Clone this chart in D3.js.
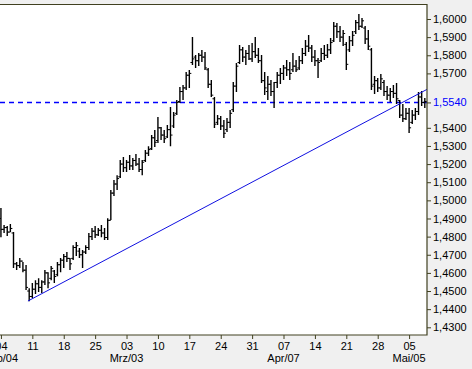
<!DOCTYPE html>
<html>
<head>
<meta charset="utf-8">
<script src="https://cdn.jsdelivr.net/npm/d3@7"></script>
<style>
  body { margin: 0; background: #f0f0f0; }
  svg { display: block; }
  .tick text { font-family: "Liberation Sans", Arial, sans-serif; font-size: 11px; fill: #000; }
</style>
</head>
<body>
<div id="chart"></div>
<script>
// price bars, two per trading day, first one Mon 04 Feb
let highs = [1.4958,1.4864,1.4858,1.4869,1.4825,1.4660,1.4682,1.4660,1.4644,1.4516,
  1.4544,1.4560,1.4571,1.4560,1.4616,1.4604,1.4638,1.4616,1.4660,1.4682,
  1.4704,1.4715,1.4682,1.4753,1.4770,1.4737,1.4726,1.4753,1.4820,1.4847,
  1.4858,1.4847,1.4864,1.4847,1.4902,1.5057,1.5112,1.5139,1.5222,1.5239,
  1.5222,1.5250,1.5233,1.5255,1.5233,1.5222,1.5277,1.5299,1.5360,1.5388,
  1.5459,1.5404,1.5388,1.5415,1.5515,1.5487,1.5553,1.5625,1.5636,1.5708,
  1.5719,1.5901,1.5801,1.5812,1.5829,1.5818,1.5730,1.5664,1.5570,1.5470,
  1.5465,1.5443,1.5454,1.5498,1.5652,1.5757,1.5857,1.5846,1.5829,1.5857,
  1.5868,1.5901,1.5840,1.5801,1.5708,1.5686,1.5664,1.5652,1.5708,1.5730,
  1.5746,1.5774,1.5763,1.5812,1.5774,1.5796,1.5840,1.5884,1.5912,1.5857,
  1.5829,1.5785,1.5840,1.5857,1.5862,1.5895,1.5983,1.5978,1.5961,1.5939,
  1.5873,1.5906,1.5934,1.5994,1.6028,1.6006,1.5961,1.5939,1.5840,1.5686,
  1.5675,1.5697,1.5664,1.5630,1.5619,1.5636,1.5647,1.5553,1.5531,1.5509,
  1.5509,1.5498,1.5509,1.5597,1.5603,1.5564];
let lows = [1.4797,1.4820,1.4803,1.4825,1.4627,1.4616,1.4627,1.4604,1.4505,1.4444,
  1.4461,1.4483,1.4494,1.4489,1.4533,1.4516,1.4560,1.4544,1.4582,1.4604,
  1.4627,1.4660,1.4616,1.4671,1.4693,1.4682,1.4627,1.4704,1.4726,1.4781,
  1.4792,1.4803,1.4797,1.4781,1.4781,1.4891,1.5024,1.5057,1.5123,1.5156,
  1.5156,1.5167,1.5167,1.5189,1.5156,1.5139,1.5211,1.5244,1.5277,1.5294,
  1.5316,1.5333,1.5316,1.5344,1.5299,1.5399,1.5470,1.5537,1.5553,1.5608,
  1.5619,1.5746,1.5730,1.5741,1.5763,1.5719,1.5619,1.5570,1.5399,1.5415,
  1.5388,1.5344,1.5377,1.5399,1.5487,1.5597,1.5752,1.5763,1.5746,1.5774,
  1.5763,1.5785,1.5757,1.5647,1.5581,1.5553,1.5575,1.5509,1.5619,1.5641,
  1.5664,1.5686,1.5664,1.5708,1.5708,1.5719,1.5752,1.5796,1.5818,1.5763,
  1.5741,1.5675,1.5763,1.5774,1.5785,1.5807,1.5873,1.5895,1.5873,1.5851,
  1.5719,1.5818,1.5851,1.5917,1.5939,1.5950,1.5862,1.5829,1.5608,1.5586,
  1.5597,1.5608,1.5575,1.5553,1.5542,1.5564,1.5531,1.5454,1.5432,1.5443,
  1.5371,1.5421,1.5443,1.5470,1.5520,1.5509];
let opens = [1.4900,1.4840,1.4850,1.4825,1.4820,1.4650,1.4640,1.4665,1.4615,1.4500,
  1.4470,1.4510,1.4540,1.4520,1.4550,1.4600,1.4570,1.4610,1.4590,1.4645,
  1.4670,1.4690,1.4680,1.4680,1.4740,1.4720,1.4700,1.4715,1.4740,1.4800,
  1.4830,1.4810,1.4835,1.4820,1.4795,1.4890,1.5040,1.5090,1.5130,1.5200,
  1.5180,1.5210,1.5190,1.5220,1.5200,1.5170,1.5220,1.5260,1.5285,1.5345,
  1.5330,1.5400,1.5360,1.5350,1.5390,1.5410,1.5480,1.5545,1.5600,1.5620,
  1.5690,1.5760,1.5790,1.5770,1.5800,1.5790,1.5720,1.5640,1.5560,1.5430,
  1.5450,1.5410,1.5390,1.5430,1.5500,1.5630,1.5760,1.5830,1.5790,1.5810,
  1.5780,1.5820,1.5800,1.5770,1.5660,1.5600,1.5640,1.5600,1.5650,1.5690,
  1.5700,1.5730,1.5720,1.5720,1.5740,1.5730,1.5770,1.5810,1.5850,1.5840,
  1.5790,1.5770,1.5770,1.5810,1.5800,1.5830,1.5880,1.5960,1.5930,1.5900,
  1.5860,1.5830,1.5880,1.5930,1.5980,1.5960,1.5950,1.5890,1.5830,1.5640,
  1.5660,1.5620,1.5650,1.5600,1.5580,1.5600,1.5590,1.5550,1.5470,1.5450,
  1.5480,1.5430,1.5470,1.5490,1.5570,1.5540];
let closes = [1.4840,1.4850,1.4825,1.4845,1.4650,1.4640,1.4665,1.4615,1.4520,1.4470,
  1.4510,1.4540,1.4520,1.4550,1.4600,1.4545,1.4625,1.4580,1.4645,1.4670,
  1.4690,1.4680,1.4650,1.4740,1.4750,1.4700,1.4715,1.4740,1.4800,1.4830,
  1.4810,1.4835,1.4820,1.4795,1.4890,1.5040,1.5090,1.5120,1.5200,1.5180,
  1.5210,1.5190,1.5220,1.5200,1.5170,1.5210,1.5260,1.5280,1.5345,1.5320,
  1.5400,1.5360,1.5340,1.5390,1.5360,1.5470,1.5540,1.5600,1.5620,1.5690,
  1.5700,1.5780,1.5770,1.5800,1.5790,1.5730,1.5640,1.5580,1.5420,1.5450,
  1.5410,1.5370,1.5430,1.5480,1.5630,1.5740,1.5830,1.5790,1.5810,1.5780,
  1.5820,1.5800,1.5770,1.5660,1.5620,1.5640,1.5600,1.5650,1.5690,1.5700,
  1.5730,1.5720,1.5700,1.5740,1.5720,1.5770,1.5810,1.5850,1.5840,1.5790,
  1.5770,1.5760,1.5810,1.5800,1.5830,1.5870,1.5960,1.5930,1.5900,1.5920,
  1.5750,1.5880,1.5910,1.5980,1.5960,1.5990,1.5890,1.5850,1.5630,1.5660,
  1.5620,1.5670,1.5600,1.5580,1.5600,1.5590,1.5560,1.5470,1.5450,1.5480,
  1.5400,1.5470,1.5490,1.5570,1.5540,1.5545];

// x axis: Mondays
let dayTickIdx = [0, 10, 20, 30, 40, 50, 60, 70, 80, 90, 100, 110, 120, 130];
let dayLabels = ["04", "11", "18", "25", "03", "10", "17", "24", "31", "07", "14", "21", "28", "05"];
let monthTickIdx = [0, 40, 90, 130];
let monthLabels = ["Feb/04", "Mrz/03", "Apr/07", "Mai/05"];

let yTicks = [1.43, 1.44, 1.45, 1.46, 1.47, 1.48, 1.49, 1.50, 1.51, 1.52, 1.53, 1.54, 1.57, 1.58, 1.59, 1.60];
let markLevel = 1.5540;
// support line: from the February low to the right edge
let trendIdx = [8.6, 135.7];
let trendVal = [1.4445, 1.5612];

const W = 472, H = 369;
const plotLeft = 0, plotRight = 427, plotTop = 4.5, plotBottom = 335;
const olive = "#404020";

const svg = d3.select("#chart").append("svg")
  .attr("width", W)
  .attr("height", H);

svg.append("rect")
  .attr("width", W).attr("height", H)
  .attr("fill", "#f0f0f0");

svg.append("rect")
  .attr("x", plotLeft).attr("y", plotTop)
  .attr("width", plotRight - plotLeft).attr("height", plotBottom - plotTop)
  .attr("fill", "#fff");

const x = d3.scaleLinear().domain([-0.3, 135.7]).range([plotLeft, plotRight]);
const y = d3.scaleLinear().domain([1.43, 1.60]).range([327.3, 19]);

svg.append("clipPath").attr("id", "plotclip")
  .append("rect")
  .attr("x", plotLeft).attr("y", plotTop)
  .attr("width", plotRight - plotLeft).attr("height", plotBottom - plotTop);

const plot = svg.append("g").attr("clip-path", "url(#plotclip)");

// dashed level line
plot.append("line")
  .attr("x1", plotLeft).attr("x2", plotRight)
  .attr("y1", y(markLevel)).attr("y2", y(markLevel))
  .attr("stroke", "#0000ff")
  .attr("stroke-width", 1.5)
  .attr("stroke-dasharray", "5,4");

// OHLC bars
const bars = plot.append("g")
  .attr("stroke", "#000")
  .attr("stroke-width", 1.4);

highs.forEach((h, i) => {
  const cx = x(i);
  bars.append("line")
    .attr("x1", cx).attr("x2", cx)
    .attr("y1", y(h)).attr("y2", y(lows[i]));
  bars.append("line")
    .attr("x1", cx - 2).attr("x2", cx)
    .attr("y1", y(opens[i])).attr("y2", y(opens[i]))
    .attr("stroke-width", 1);
  bars.append("line")
    .attr("x1", cx).attr("x2", cx + 2)
    .attr("y1", y(closes[i])).attr("y2", y(closes[i]))
    .attr("stroke-width", 1);
});

// trend line
plot.append("line")
  .attr("x1", x(trendIdx[0])).attr("y1", y(trendVal[0]))
  .attr("x2", x(trendIdx[1])).attr("y2", y(trendVal[1]))
  .attr("stroke", "#1010e0")
  .attr("stroke-width", 1);

// frame
svg.append("path")
  .attr("d", `M${plotLeft},${plotTop}H${plotRight}V${plotBottom}H${plotLeft}`)
  .attr("fill", "none")
  .attr("stroke", olive)
  .attr("stroke-width", 1.2);

const fmt = (v) => d3.format(".4f")(v).replace(".", ",");

// right axis
const yAxis = svg.append("g")
  .attr("transform", `translate(${plotRight},0)`)
  .call(d3.axisRight(y).tickValues(yTicks).tickFormat(fmt).tickSize(4).tickPadding(2).tickSizeOuter(0));
yAxis.select(".domain").remove();
yAxis.selectAll(".tick line").attr("stroke", olive);

const markAxis = svg.append("g")
  .attr("transform", `translate(${plotRight},0)`)
  .call(d3.axisRight(y).tickValues([markLevel]).tickFormat(fmt).tickSize(4).tickPadding(2));
markAxis.select(".domain").remove();
markAxis.selectAll(".tick line").attr("stroke", olive);
markAxis.selectAll(".tick text").style("fill", "#0000ff");

// bottom axis
const xAxis = svg.append("g")
  .attr("transform", `translate(0,${plotBottom})`)
  .call(d3.axisBottom(x).tickValues(dayTickIdx)
    .tickFormat((d, i) => dayLabels[i]).tickSize(4).tickPadding(3).tickSizeOuter(0));
xAxis.select(".domain").remove();
xAxis.selectAll(".tick line").attr("stroke", olive);

svg.append("g")
  .selectAll("text")
  .data(monthTickIdx)
  .join("text")
  .attr("x", (d) => x(d))
  .attr("y", 362)
  .attr("text-anchor", "middle")
  .attr("font-family", "Liberation Sans, Arial, sans-serif")
  .attr("font-size", 11)
  .text((d, i) => monthLabels[i]);
</script>
</body>
</html>
